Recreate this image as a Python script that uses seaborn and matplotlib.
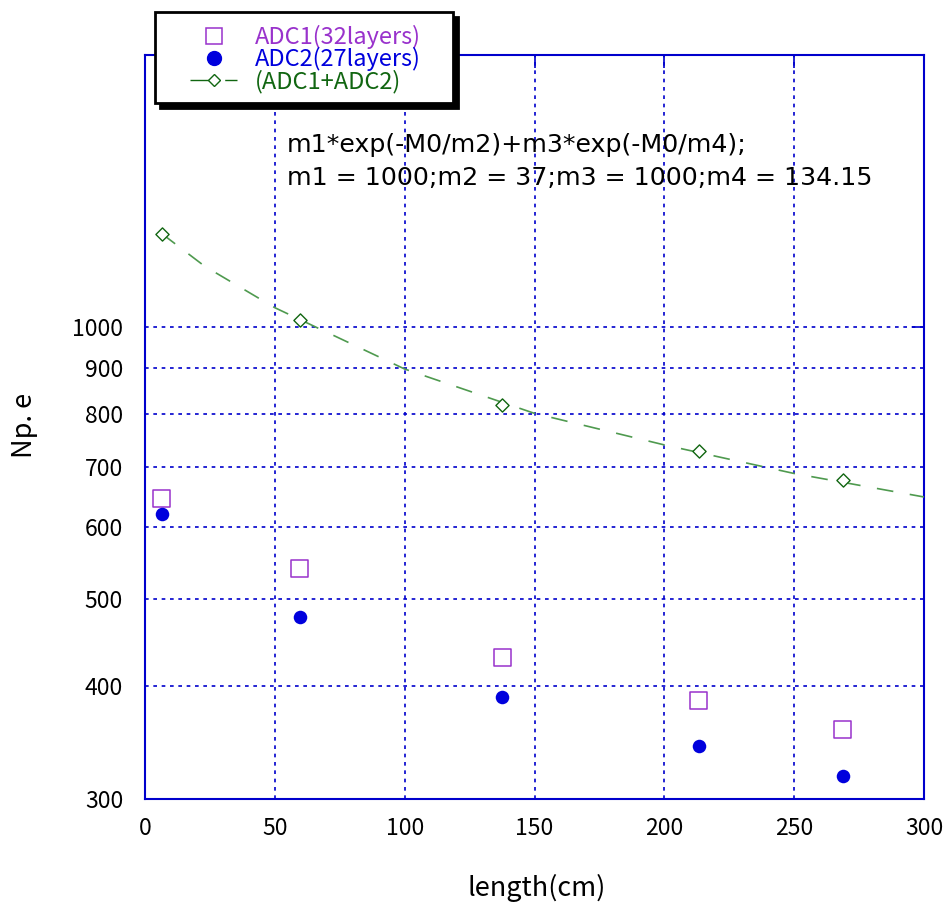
import matplotlib
matplotlib.use("Agg")
import matplotlib.pyplot as plt
import seaborn as sns
import pandas as pd
from matplotlib.lines import Line2D
from matplotlib.patches import Rectangle
from matplotlib.ticker import FixedLocator, FixedFormatter

# ---------------- data ----------------
length_cm = [6.5, 59.5, 137.5, 213.3, 268.8]
adc1_npe = [645, 540, 430, 386, 358]
adc2_npe = [621, 477, 389, 343, 318]
sum_npe = [1266, 1017, 819, 729, 676]
fit_length = [6.5, 23, 50, 100, 150, 200, 250, 300]
fit_npe = [1268, 1167, 1050, 898, 802, 740, 688, 648]
ytick_vals = [300, 400, 500, 600, 700, 800, 900, 1000]
xtick_vals = [0, 50, 100, 150, 200, 250, 300]
legend_labels = ["ADC1(32layers)", "ADC2(27layers)", "(ADC1+ADC2)"]
fit_text = ["m1*exp(-M0/m2)+m3*exp(-M0/m4);",
            "m1 = 1000;m2 = 37;m3 = 1000;m4 = 134.15"]
x_label = "length(cm)"
y_label = "Np. e"

# ---------------- style ----------------
sns.set_style("white")
plt.rcParams['font.family'] = ['Noto Sans CJK JP', 'DejaVu Sans']
plt.rcParams['text.color'] = 'black'
plt.rcParams['axes.labelcolor'] = 'black'
plt.rcParams['xtick.color'] = 'black'
plt.rcParams['ytick.color'] = 'black'

PURPLE = '#9932CC'
BLUE = '#0000DD'
GREEN = '#116611'
CURVE = '#4F9A4F'
AXBLUE = '#0000CC'

W, H = 951, 909
fig = plt.figure(figsize=(W / 100, H / 100), dpi=100)
L, R, T, B = 145, 924, 55, 799
ax = fig.add_axes([L / W, 1 - B / H, (R - L) / W, (B - T) / H])

df = pd.DataFrame({'length': length_cm, 'adc1': adc1_npe,
                   'adc2': adc2_npe, 'sum': sum_npe})
fit_df = pd.DataFrame({'length': fit_length, 'npe': fit_npe})

sns.lineplot(data=fit_df, x='length', y='npe', ax=ax, color=CURVE,
             linewidth=1.2, linestyle=(0, (10, 10)), zorder=3)
sns.scatterplot(data=df, x='length', y='sum', ax=ax, marker='D', s=45,
                facecolor='white', edgecolor=GREEN, linewidth=1.0, zorder=4)
sns.scatterplot(data=df, x='length', y='adc1', ax=ax, marker='s', s=150,
                facecolor='none', edgecolor=PURPLE, linewidth=1.1, zorder=4)
sns.scatterplot(data=df, x='length', y='adc2', ax=ax, marker='o', s=95,
                facecolor=BLUE, edgecolor=BLUE, linewidth=0, zorder=4)

ax.set_yscale('log')
ax.set_xlim(0, 300)
ax.set_ylim(300, 2000)
ax.xaxis.set_major_locator(FixedLocator(xtick_vals))
ax.xaxis.set_major_formatter(FixedFormatter([str(v) for v in xtick_vals]))
ax.yaxis.set_major_locator(FixedLocator(ytick_vals[-1:]))
ax.yaxis.set_major_formatter(FixedFormatter([str(v) for v in ytick_vals[-1:]]))
ax.yaxis.set_minor_locator(FixedLocator(ytick_vals[:-1]))
ax.yaxis.set_minor_formatter(FixedFormatter([str(v) for v in ytick_vals[:-1]]))

ax.tick_params(axis='both', which='major', direction='in', length=9, width=1.2,
               color=AXBLUE, top=True, right=True, labelsize=16.5, labelcolor='black')
ax.tick_params(axis='y', which='minor', direction='in', length=0,
               labelsize=16.5, labelcolor='black', pad=15.8)
ax.tick_params(axis='y', which='major', pad=15.8)
ax.tick_params(axis='x', which='major', pad=13)

ax.grid(True, which='both', axis='both', color=AXBLUE,
        linestyle=(0, (2.2, 2.8)), linewidth=1.2)
for s in ax.spines.values():
    s.set_color(AXBLUE)
    s.set_linewidth(1.5)

ax.set_xlabel(x_label, fontsize=19.5)
ax.set_ylabel(y_label, fontsize=19.5)
ax.xaxis.label.set_va('center')
ax.yaxis.label.set_va('center')
ax.xaxis.set_label_coords((537 - L) / (R - L), (B - 888) / (B - T))
ax.yaxis.set_label_coords((25 - L) / (R - L), (B - 425) / (B - T))

# fit annotation
fig.text(287 / W, 1 - 152 / H, fit_text[0], family='DejaVu Sans',
         fontsize=18.2, va='baseline', ha='left', color='black')
fig.text(287 / W, 1 - 185 / H, fit_text[1], family='DejaVu Sans',
         fontsize=18.2, va='baseline', ha='left', color='black')

# legend with shadowed box
handles = [
    Line2D([], [], ls='none', marker='s', ms=12, mfc='none', mec=PURPLE, mew=1.1),
    Line2D([], [], ls='none', marker='o', ms=10, mfc=BLUE, mec=BLUE),
    Line2D([], [], color=GREEN, lw=1, ls=(0, (16, 9)), marker='D', ms=6.6,
           mfc='white', mec=GREEN),
]
leg = fig.legend(handles, legend_labels, loc='upper left',
                 bbox_to_anchor=(190 / W, 1 - 25 / H), frameon=False,
                 borderpad=0, borderaxespad=0, handlelength=2.0,
                 handletextpad=0.75, labelspacing=-0.08, fontsize=17)
for t, c in zip(leg.get_texts(), [PURPLE, BLUE, GREEN]):
    t.set_color(c)
leg.set_zorder(6)

bx0, by0, bx1, by1 = 155, 12, 453, 103
shadow = Rectangle(((bx0 + 5) / W, 1 - (by1 + 5) / H), (bx1 - bx0) / W, (by1 - by0) / H,
                   transform=fig.transFigure, facecolor='black', edgecolor='black',
                   lw=2, zorder=4)
box = Rectangle((bx0 / W, 1 - by1 / H), (bx1 - bx0) / W, (by1 - by0) / H,
                transform=fig.transFigure, facecolor='white', edgecolor='black',
                lw=2, zorder=5)
fig.add_artist(shadow)
fig.add_artist(box)

fig.savefig('out.png', dpi=100)
